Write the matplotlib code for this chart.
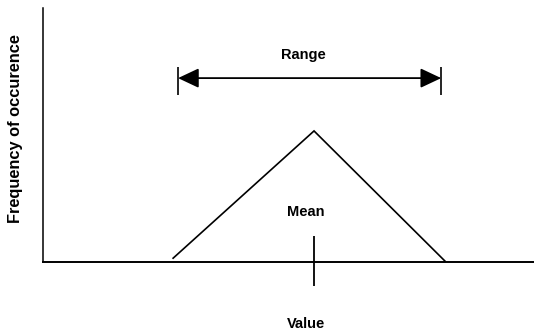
import matplotlib
matplotlib.use("Agg")
import matplotlib.pyplot as plt

# Data (value units: x 0..100, frequency 0..100)
tri_x = [26.5, 55.2, 81.9]
tri_y = [1.5, 51.6, 0.3]
range_start, range_end = 27.5, 81.1
range_y = 72.4
range_bar = (65.7, 76.8)
mean_x = 55.2
mean_tick = (-9.4, 10.2)

labels = {"range": "Range", "mean": "Mean", "x": "Value", "y": "Frequency of occurence"}

W, H, DPI = 534, 334, 100
fig = plt.figure(figsize=(W / DPI, H / DPI), dpi=DPI)
ax = fig.add_axes([43 / W, (H - 262) / H, (W - 43) / W, (262 - 8) / H])
ax.set_xlim(0, 100)
ax.set_ylim(0, 100)
for s in ("top", "right"):
    ax.spines[s].set_visible(False)
ax.spines["left"].set_linewidth(1.1)
ax.spines["bottom"].set_linewidth(1.4)
ax.set_xticks([])
ax.set_yticks([])

ax.plot(tri_x, tri_y, color="black", lw=1.2, solid_joinstyle="miter")

ax.annotate("", xy=(range_end, range_y), xytext=(range_start, range_y),
            arrowprops=dict(arrowstyle="<|-|>,head_length=0.85,head_width=0.4",
                            color="black", lw=1.3, shrinkA=0, shrinkB=0,
                            mutation_scale=15))
ax.vlines([range_start, range_end], *range_bar, color="black", lw=1.2)
ax.vlines([mean_x], *mean_tick, color="black", lw=1.3, clip_on=False)

font = dict(family="Liberation Sans", fontweight="bold", fontsize=10.5)
ax.text(52.95, 81.5, labels["range"], ha="center", va="center", **font)
ax.text(53.6, 19.7, labels["mean"], ha="center", va="center", **font)
fig.text(306 / W, 1 - 324 / H, labels["x"], ha="center", va="center", **font)
fig.text(16 / W, 1 - 129 / H, labels["y"], ha="center", va="center", rotation=90,
         family="Liberation Sans", fontweight="bold", fontsize=11.8)

fig.savefig("out.png", dpi=DPI)
